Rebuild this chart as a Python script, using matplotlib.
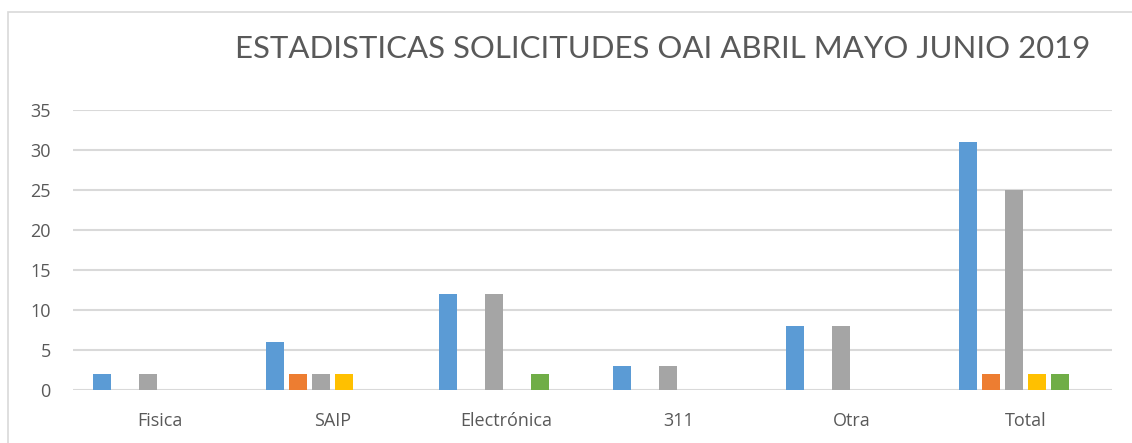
import matplotlib.pyplot as plt
import numpy as np
from matplotlib.patches import Rectangle

categorias = ["Fisica", "SAIP", "Electrónica", "311", "Otra", "Total"]
serie_1 = [2, 6, 12, 3, 8, 31]
serie_2 = [0, 2, 0, 0, 0, 2]
serie_3 = [2, 2, 12, 3, 8, 25]
serie_4 = [0, 2, 0, 0, 0, 2]
serie_5 = [0, 0, 2, 0, 0, 2]
titulo = "ESTADISTICAS SOLICITUDES OAI ABRIL MAYO JUNIO 2019"

colores = ["#5B9BD5", "#ED7D31", "#A5A5A5", "#FFC000", "#70AD47"]
texto = "#595959"
grid = "#D9D9D9"

W, H = 1132, 443
fig = plt.figure(figsize=(W / 100, H / 100), dpi=100)
plt.rcParams["font.family"] = ["Open Sans", "DejaVu Sans"]

# borde del area del grafico
fig.patches.append(Rectangle((8 / W, -0.1), 1.2, 1 - 12 / H + 0.1, transform=fig.transFigure,
                             fill=False, edgecolor=grid, linewidth=1.2))

ax = fig.add_axes([73 / W, 53 / H, (1112 - 73) / W, (390 - 110) / H])

# excel deja hueco para 6 series aunque solo se ven 5
slots = 6
paso = 0.1328
ancho = 0.104
x = np.arange(len(categorias))
series = [serie_1, serie_2, serie_3, serie_4, serie_5]
for i, (vals, c) in enumerate(zip(series, colores)):
    off = (i - (slots - 1) / 2) * paso
    ax.bar(x + off, vals, ancho, color=c, zorder=3)

ax.set_xlim(-0.5, len(categorias) - 0.5)
ax.set_ylim(0, 35)
ax.set_yticks(range(0, 36, 5))
ax.set_xticks(x)
ax.set_xticklabels(categorias)
ax.yaxis.grid(True, color=grid, linewidth=1.5, zorder=0)
ax.set_axisbelow(True)
for s in ax.spines.values():
    s.set_visible(False)
ax.tick_params(length=0, labelsize=13, colors=texto)
ax.tick_params(axis="x", pad=16)
ax.tick_params(axis="y", pad=16)

fig.text(663 / W, 1 - 49 / H, titulo, ha="center", va="center", fontsize=22.4,
         color=texto, family=["Lato", "DejaVu Sans"], fontweight="normal")

fig.savefig("out.png", dpi=100)
